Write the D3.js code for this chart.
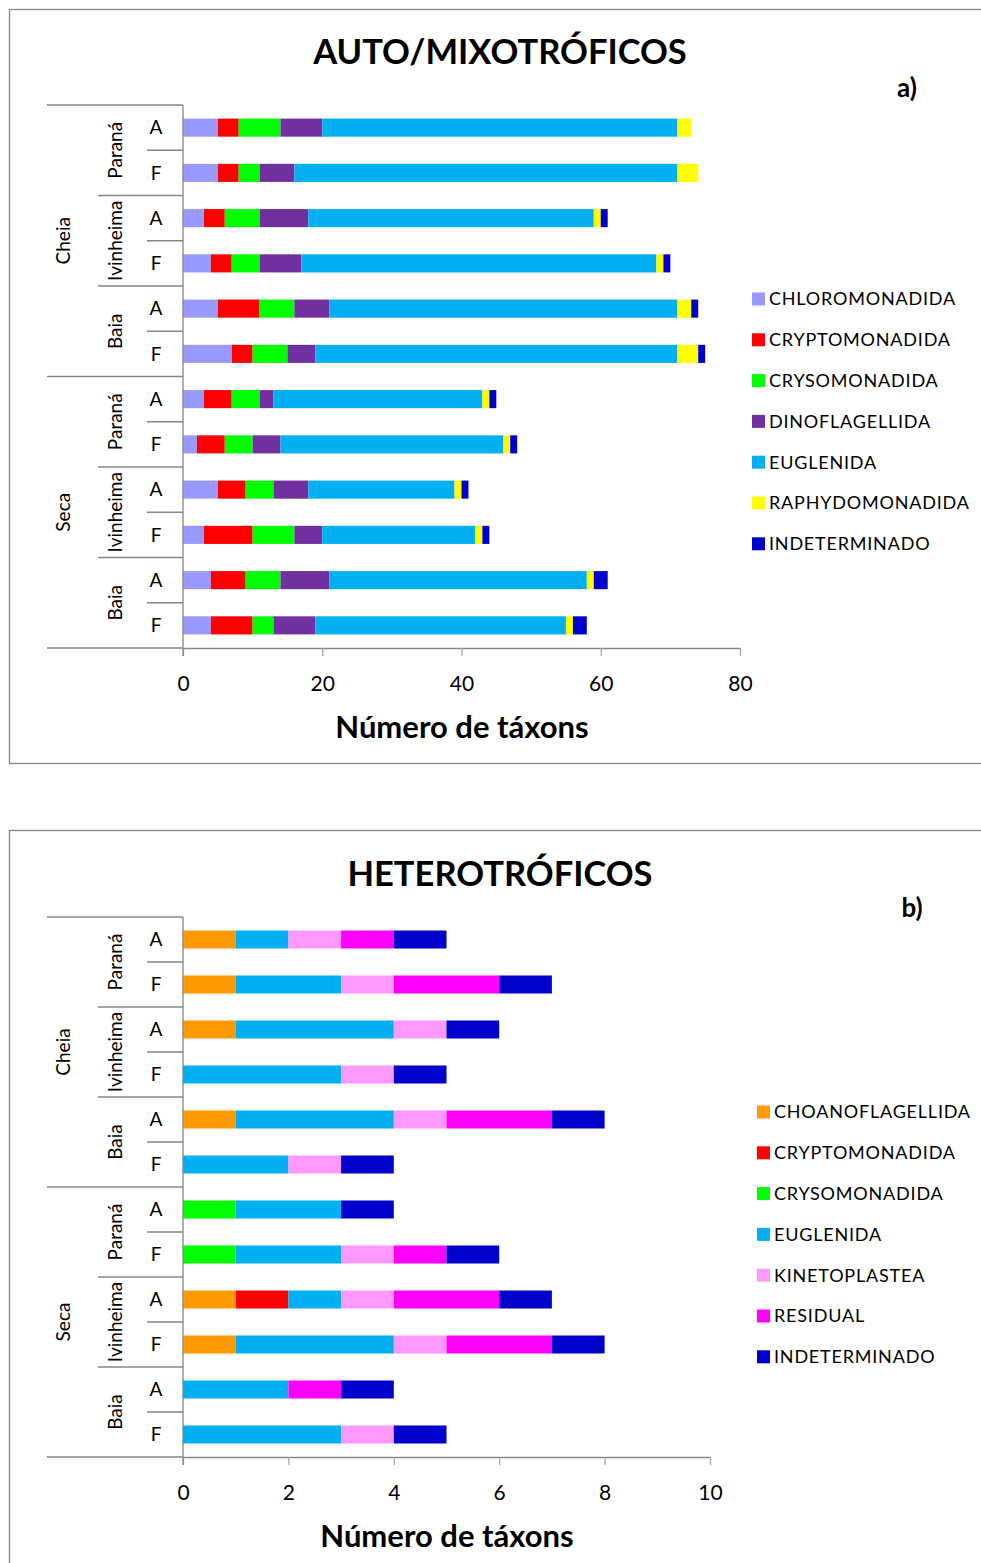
<!DOCTYPE html>
<html>
<head>
<meta charset="utf-8">
<script src="https://cdn.jsdelivr.net/npm/d3@7"></script>
<style>
  html, body { margin: 0; padding: 0; background: #fff; }
  svg { display: block; font-family: Lato, "Noto Sans", sans-serif; }
</style>
</head>
<body>
<svg id="chart" width="981" height="1563"></svg>
<script>
// Row hierarchy: period > environment > phase (12 rows, top to bottom)
const periodos = ["Cheia", "Seca"];
const ambientes = ["Paraná", "Ivinheima", "Baia"];
const fases = ["A", "F"];

// a) Auto/mixotrophic flagellates — number of taxa per group
const autoGrupos = ["CHLOROMONADIDA", "CRYPTOMONADIDA", "CRYSOMONADIDA", "DINOFLAGELLIDA",
                    "EUGLENIDA", "RAPHYDOMONADIDA", "INDETERMINADO"];
const autoCores = ["#9999FF", "#FF0000", "#00FF00", "#7030A0", "#00B0F0", "#FFFF00", "#0000CC"];
const autoChloromonadida = [5, 5, 3, 4, 5, 7, 3, 2, 5, 3, 4, 4];
const autoCryptomonadida = [3, 3, 3, 3, 6, 3, 4, 4, 4, 7, 5, 6];
const autoCrysomonadida  = [6, 3, 5, 4, 5, 5, 4, 4, 4, 6, 5, 3];
const autoDinoflagellida = [6, 5, 7, 6, 5, 4, 2, 4, 5, 4, 7, 6];
const autoEuglenida      = [51, 55, 41, 51, 50, 52, 30, 32, 21, 22, 37, 36];
const autoRaphydomonadida = [2, 3, 1, 1, 2, 3, 1, 1, 1, 1, 1, 1];
const autoIndeterminado  = [0, 0, 1, 1, 1, 1, 1, 1, 1, 1, 2, 2];
const autoTicks = [0, 20, 40, 60, 80];

// b) Heterotrophic flagellates — number of taxa per group
const heteroGrupos = ["CHOANOFLAGELLIDA", "CRYPTOMONADIDA", "CRYSOMONADIDA", "EUGLENIDA",
                      "KINETOPLASTEA", "RESIDUAL", "INDETERMINADO"];
const heteroCores = ["#FF9900", "#FF0000", "#00FF00", "#00B0F0", "#FF99FF", "#FF00FF", "#0000CC"];
const heteroChoanoflagellida = [1, 1, 1, 0, 1, 0, 0, 0, 1, 1, 0, 0];
const heteroCryptomonadida   = [0, 0, 0, 0, 0, 0, 0, 0, 1, 0, 0, 0];
const heteroCrysomonadida    = [0, 0, 0, 0, 0, 0, 1, 1, 0, 0, 0, 0];
const heteroEuglenida        = [1, 2, 3, 3, 3, 2, 2, 2, 1, 3, 2, 3];
const heteroKinetoplastea    = [1, 1, 1, 1, 1, 1, 0, 1, 1, 1, 0, 1];
const heteroResidual         = [1, 2, 0, 0, 2, 0, 0, 1, 2, 2, 1, 0];
const heteroIndeterminado    = [1, 1, 1, 1, 1, 1, 1, 1, 1, 1, 1, 1];
const heteroTicks = [0, 2, 4, 6, 8, 10];

const svg = d3.select("#chart");
const lineGray = "#868686";
const tickGray = "#A6A6A6";

// Build the list of row keys in display order
const linhas = [];
periodos.forEach(p => ambientes.forEach(a => fases.forEach(f => linhas.push({ p, a, f, key: p + "|" + a + "|" + f }))));

function painel(cfg) {
  const g = svg.append("g");

  // panel frame (runs off the right edge)
  g.append("rect")
    .attr("x", 9.5).attr("y", cfg.frameTop + 0.5)
    .attr("width", 1000).attr("height", cfg.frameHeight)
    .attr("fill", "none").attr("stroke", lineGray).attr("stroke-width", 1.3);

  g.append("text").attr("x", 500).attr("y", cfg.titleY)
    .attr("text-anchor", "middle").attr("font-weight", "bold")
    .attr("font-size", 34.5).attr("fill", "#000").text(cfg.title);
  g.append("text").attr("x", cfg.letterX).attr("y", cfg.letterY)
    .attr("text-anchor", "middle").attr("font-weight", "bold")
    .attr("font-size", 26).attr("fill", "#000").text(cfg.letter);

  // data table
  const tabela = linhas.map((l, i) => {
    const o = { key: l.key };
    cfg.grupos.forEach((gr, j) => { o[gr] = cfg.valores[j][i]; });
    return o;
  });
  const series = d3.stack().keys(cfg.grupos)(tabela);

  const x = d3.scaleLinear().domain(cfg.domain).range([183, cfg.xRight]);
  const y = d3.scaleBand().domain(linhas.map(l => l.key)).range([cfg.rowTop, cfg.rowBottom]).paddingInner(0.6).paddingOuter(0.3);
  const band = (cfg.rowBottom - cfg.rowTop) / linhas.length;
  const color = d3.scaleOrdinal().domain(cfg.grupos).range(cfg.cores);

  g.append("g").selectAll("g").data(series).join("g")
    .attr("fill", d => color(d.key))
    .selectAll("rect").data(d => d).join("rect")
      .attr("x", d => x(d[0]))
      .attr("width", d => x(d[1]) - x(d[0]))
      .attr("y", d => y(d.data.key))
      .attr("height", y.bandwidth());

  // value axis
  const axis = g.append("g").attr("transform", `translate(0,${cfg.rowBottom})`)
    .call(d3.axisBottom(x).tickValues(cfg.ticks).tickSize(8).tickSizeOuter(0).tickPadding(20));
  axis.select(".domain").attr("stroke", lineGray).attr("stroke-width", 1.3);
  axis.selectAll(".tick line").attr("stroke", tickGray).attr("stroke-width", 1.3);
  axis.selectAll(".tick text").attr("font-size", 21).attr("fill", "#000")
    .attr("font-family", "Lato, 'Noto Sans', sans-serif");

  g.append("text").attr("x", cfg.axisTitleX).attr("y", cfg.rowBottom + 90)
    .attr("text-anchor", "middle").attr("font-weight", "bold")
    .attr("font-size", 31).attr("fill", "#000").text("Número de táxons");

  // category axis line and hierarchical separators
  const sep = g.append("g").attr("stroke", lineGray).attr("stroke-width", 1.3);
  sep.append("line").attr("x1", 183).attr("x2", 183).attr("y1", cfg.rowTop).attr("y2", cfg.rowBottom + 8);
  sep.append("line").attr("x1", 47).attr("x2", 183).attr("y1", cfg.rowBottom).attr("y2", cfg.rowBottom);
  linhas.forEach((l, i) => {
    const yy = cfg.rowTop + i * band;
    let x1;
    if (i % 6 === 0) x1 = 47;
    else if (i % 2 === 0) x1 = 98;
    else x1 = 147;
    sep.append("line").attr("x1", x1).attr("x2", 183).attr("y1", yy).attr("y2", yy);
  });

  // phase labels
  g.append("g").selectAll("text").data(linhas).join("text")
    .attr("x", 156).attr("y", d => y(d.key) + y.bandwidth() / 2)
    .attr("dy", "0.36em").attr("text-anchor", "middle")
    .attr("font-size", 19).attr("fill", "#000").text(d => d.f);

  // environment labels (rotated)
  const amb = [];
  periodos.forEach((p, pi) => ambientes.forEach((a, ai) => amb.push({ a, c: cfg.rowTop + (pi * 6 + ai * 2 + 1) * band })));
  g.append("g").selectAll("text").data(amb).join("text")
    .attr("transform", d => `translate(115,${d.c}) rotate(-90)`)
    .attr("dy", "0.36em").attr("text-anchor", "middle")
    .attr("font-size", 19).attr("fill", "#000").text(d => d.a);

  // period labels (rotated)
  g.append("g").selectAll("text").data(periodos).join("text")
    .attr("transform", (d, i) => `translate(63,${cfg.rowTop + (i * 6 + 3) * band}) rotate(-90)`)
    .attr("dy", "0.36em").attr("text-anchor", "middle")
    .attr("font-size", 19).attr("fill", "#000").text(d => d);

  // legend
  const leg = g.append("g").selectAll("g").data(cfg.grupos).join("g")
    .attr("transform", (d, i) => `translate(${cfg.legX},${cfg.legY + i * 40.8})`);
  leg.append("rect").attr("x", 0).attr("y", -6.5).attr("width", 13).attr("height", 13)
    .attr("fill", d => color(d));
  leg.append("text").attr("x", 17).attr("dy", "0.36em")
    .attr("font-size", 18).attr("letter-spacing", 0.8).attr("fill", "#000").text(d => d);
}

painel({
  frameTop: 9, frameHeight: 754,
  title: "AUTO/MIXOTRÓFICOS", titleY: 64, letter: "a)", letterX: 907, letterY: 97,
  grupos: autoGrupos, cores: autoCores,
  valores: [autoChloromonadida, autoCryptomonadida, autoCrysomonadida, autoDinoflagellida,
            autoEuglenida, autoRaphydomonadida, autoIndeterminado],
  domain: [0, 80], ticks: autoTicks, xRight: 740, axisTitleX: 462,
  rowTop: 105, rowBottom: 648,
  legX: 752, legY: 299
});

painel({
  frameTop: 830, frameHeight: 800,
  title: "HETEROTRÓFICOS", titleY: 886, letter: "b)", letterX: 912, letterY: 917,
  grupos: heteroGrupos, cores: heteroCores,
  valores: [heteroChoanoflagellida, heteroCryptomonadida, heteroCrysomonadida, heteroEuglenida,
            heteroKinetoplastea, heteroResidual, heteroIndeterminado],
  domain: [0, 10], ticks: heteroTicks, xRight: 710, axisTitleX: 447,
  rowTop: 917, rowBottom: 1457,
  legX: 757, legY: 1112
});
</script>
</body>
</html>
